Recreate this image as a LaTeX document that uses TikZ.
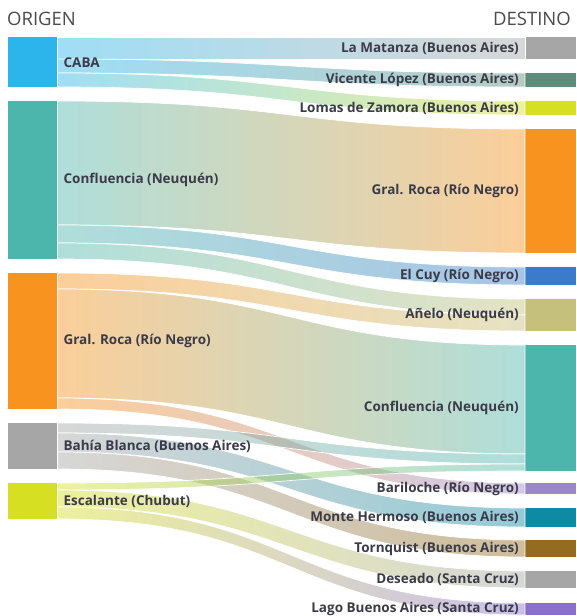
\documentclass[tikz,border=0pt]{standalone}
\usepackage{fontspec}
\setmainfont{Open Sans}
\usetikzlibrary{positioning}

\definecolor{celeste}{HTML}{2BB5EA}
\definecolor{verdeagua}{HTML}{4DB6AC}
\definecolor{naranja}{HTML}{F7931E}
\definecolor{gris}{HTML}{A6A6A6}
\definecolor{lima}{HTML}{D6DF22}
\definecolor{verdegris}{HTML}{5E8C7A}
\definecolor{azul}{HTML}{3A7BCB}
\definecolor{caqui}{HTML}{C5C07C}
\definecolor{lila}{HTML}{9A86CC}
\definecolor{petroleo}{HTML}{0E8AA5}
\definecolor{marron}{HTML}{946C21}
\definecolor{violeta}{HTML}{8A6FD0}
\definecolor{texto}{HTML}{3A3A48}
\definecolor{titulo}{HTML}{4A4A50}

% origen, desplaz., destino, desplaz., ancho, color ini., color fin.
\newcommand{\flujo}[7]{%
  \path ([yshift=-#2pt]#1.north east) coordinate (a1)
        ([yshift=-#2pt-#5pt]#1.north east) coordinate (a2)
        ([yshift=-#4pt]#3.north west) coordinate (b1)
        ([yshift=-#4pt-#5pt]#3.north west) coordinate (b2);
  \shadedraw[banda, left color=#6, right color=#7]
    (a1) .. controls (a1 -| medio) and (b1 -| medio) .. (b1)
    -- (b2) .. controls (b2 -| medio) and (a2 -| medio) .. (a2) -- cycle;}

\begin{document}
\begin{tikzpicture}[x=1pt,y=-1pt,
  origen/.style={anchor=north west, inner sep=0pt, minimum width=49pt},
  destino/.style={anchor=north west, inner sep=0pt, minimum width=51pt},
  banda/.style={draw=white, line width=0.7pt, fill opacity=0.45},
  etiq/.style={font=\bfseries\fontsize{13.5}{15}\selectfont, text=texto, inner sep=0pt}]
\useasboundingbox (0,0) rectangle (576,616);
\coordinate (medio) at (291,0);

\node[anchor=base west, inner sep=0pt, text=titulo,
  font=\fontsize{18.5}{22}\selectfont] (torig) at (7,25) {ORIGEN};
\node[anchor=base east, inner sep=0pt, text=titulo,
  font=\fontsize{18.5}{22}\selectfont] (tdest) at (571,25) {DESTINO};

% origen
\node[origen, fill=celeste, minimum height=50pt] (caba) at (8,37) {};
\node[origen, fill=verdeagua, minimum height=158pt] (confO) at (8,101) {};
\node[origen, fill=naranja, minimum height=136pt] (rocaO) at (8,273) {};
\node[origen, fill=gris, minimum height=46pt] (bahia) at (8,423) {};
\node[origen, fill=lima, minimum height=36pt] (escal) at (8,483) {};

% destino
\node[destino, fill=gris, minimum height=22pt] (matanza) at (525,37) {};
\node[destino, fill=verdegris, minimum height=14pt] (vlopez) at (525,73) {};
\node[destino, fill=lima, minimum height=14pt] (lomas) at (525,101) {};
\node[destino, fill=naranja, minimum height=124pt] (rocaD) at (525,129) {};
\node[destino, fill=azul, minimum height=18pt] (elcuy) at (525,267) {};
\node[destino, fill=caqui, minimum height=32pt] (anelo) at (525,299) {};
\node[destino, fill=verdeagua, minimum height=126pt] (confD) at (525,345) {};
\node[destino, fill=lila, minimum height=11pt] (bariloche) at (525,483) {};
\node[destino, fill=petroleo, minimum height=19pt] (mhermoso) at (525,508) {};
\node[destino, fill=marron, minimum height=17pt] (tornquist) at (525,540) {};
\node[destino, fill=gris, minimum height=17pt] (deseado) at (525,571) {};
\node[destino, fill=violeta, minimum height=12pt] (lago) at (525,603) {};

% flujos
\flujo{caba}{0}{matanza}{0}{22}{celeste}{gris}
\flujo{caba}{22}{vlopez}{0}{14}{celeste}{verdegris}
\flujo{caba}{36}{lomas}{0}{14}{celeste}{lima}
\flujo{confO}{0}{rocaD}{0}{124}{verdeagua}{naranja}
\flujo{confO}{124}{elcuy}{0}{18}{verdeagua}{azul}
\flujo{confO}{142}{anelo}{0}{16}{verdeagua}{caqui}
\flujo{rocaO}{0}{anelo}{16}{16}{naranja}{caqui}
\flujo{rocaO}{16}{confD}{0}{109}{naranja}{verdeagua}
\flujo{rocaO}{125}{bariloche}{0}{11}{naranja}{lila}
\flujo{bahia}{0}{confD}{109}{10}{gris}{verdeagua}
\flujo{bahia}{10}{mhermoso}{0}{19}{gris}{petroleo}
\flujo{bahia}{29}{tornquist}{0}{17}{gris}{marron}
\flujo{escal}{0}{confD}{119}{7}{lima}{verdeagua}
\flujo{escal}{7}{deseado}{0}{17}{lima}{gris}
\flujo{escal}{24}{lago}{0}{12}{lima}{violeta}

% etiquetas
\node[etiq, right=6pt of caba] (lcaba) {CABA};
\node[etiq, right=6pt of confO] (lconfO) {Confluencia (Neuquén)};
\node[etiq, right=6pt of rocaO] (lrocaO) {Gral. Roca (Río Negro)};
\node[etiq, right=6pt of bahia] (lbahia) {Bahía Blanca (Buenos Aires)};
\node[etiq, right=6pt of escal] (lescal) {Escalante (Chubut)};
\node[etiq, left=6pt of matanza] (lmatanza) {La Matanza (Buenos Aires)};
\node[etiq, left=6pt of vlopez] (lvlopez) {Vicente López (Buenos Aires)};
\node[etiq, left=6pt of lomas] (llomas) {Lomas de Zamora (Buenos Aires)};
\node[etiq, left=6pt of rocaD] (lrocaD) {Gral. Roca (Río Negro)};
\node[etiq, left=6pt of elcuy] (lelcuy) {El Cuy (Río Negro)};
\node[etiq, left=6pt of anelo] (lanelo) {Añelo (Neuquén)};
\node[etiq, left=6pt of confD] (lconfD) {Confluencia (Neuquén)};
\node[etiq, left=6pt of bariloche] (lbariloche) {Bariloche (Río Negro)};
\node[etiq, left=6pt of mhermoso] (lmhermoso) {Monte Hermoso (Buenos Aires)};
\node[etiq, left=6pt of tornquist] (ltornquist) {Tornquist (Buenos Aires)};
\node[etiq, left=6pt of deseado] (ldeseado) {Deseado (Santa Cruz)};
\node[etiq, left=6pt of lago] (llago) {Lago Buenos Aires (Santa Cruz)};
\end{tikzpicture}
\end{document}
